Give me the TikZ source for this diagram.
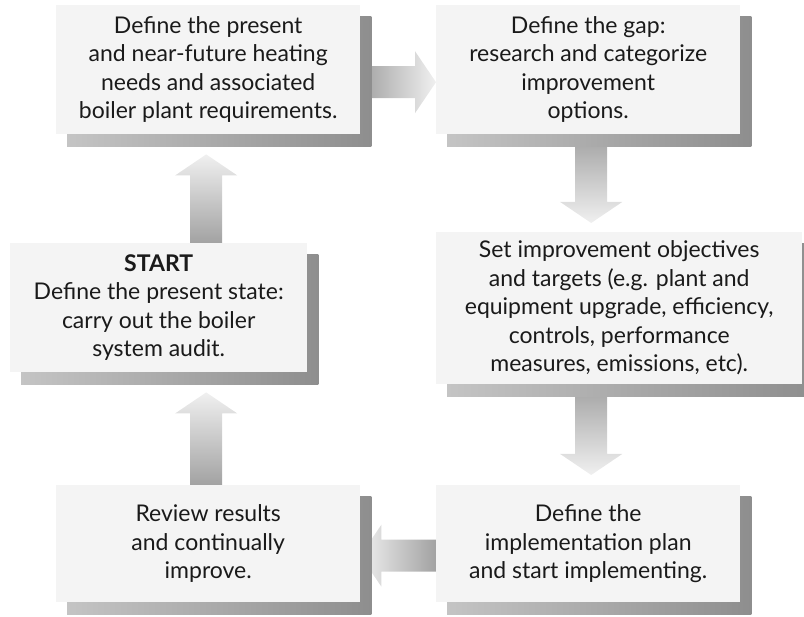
\documentclass[tikz,border=0pt]{standalone}
\usepackage{fontspec}
\setmainfont{Lato}
\usetikzlibrary{calc}
\pgfdeclarelayer{arrowlayer}
\pgfdeclarelayer{shadowlayer}
\pgfsetlayers{arrowlayer,shadowlayer,main}
\definecolor{boxfill}{HTML}{F4F4F4}
\definecolor{textcol}{HTML}{1A1A1A}
\definecolor{shadl}{HTML}{C4C4C4}
\definecolor{shadr}{HTML}{8E8E8E}
\definecolor{ardark}{HTML}{A2A2A2}
\definecolor{arlight}{HTML}{F0F0F0}
% block arrow from tail #1 to tip #2, shading options #3
\newcommand\blockarrow[3]{%
  \shade[#3]
    ($(#1)!16pt!90:(#2)$) --
    ($($(#2)!21pt!(#1)$)!16pt!90:(#2)$) --
    ($($(#2)!21pt!(#1)$)!31pt!90:(#2)$) --
    (#2) --
    ($($(#2)!21pt!(#1)$)!31pt!-90:(#2)$) --
    ($($(#2)!21pt!(#1)$)!16pt!-90:(#2)$) --
    ($(#1)!16pt!-90:(#2)$) -- cycle;}
\begin{document}
\begin{tikzpicture}[x=1pt,y=-1pt,
  box/.style={fill=boxfill, anchor=north west, inner sep=0pt, align=center,
    font=\fontsize{23}{28.5}\selectfont, text=textcol},
  shadowfill/.style={left color=shadl, right color=shadr},
]
\useasboundingbox (0,0) rectangle (804,617);

\node[box, minimum width=304pt, minimum height=129pt] (b1) at (56,5)
  {Define the present\\and near-future heating\\needs and associated\\boiler plant requirements.};
\node[box, minimum width=304pt, minimum height=129pt] (b2) at (436,5)
  {Define the gap:\\research and categorize\\improvement\\options.};
\node[box, minimum width=297pt, minimum height=129pt] (b3) at (10,243)
  {\textbf{START}\\Define the present state:\\carry out the boiler\\system audit.};
\node[box, minimum width=366pt, minimum height=152pt] (b4) at (436,232)
  {Set improvement objectives\\and targets (e.g. plant and\\equipment upgrade, efficiency,\\controls, performance\\measures, emissions, etc).};
\node[box, minimum width=304pt, minimum height=117pt] (b5) at (56,485)
  {Review results\\and continually\\improve.};
\node[box, minimum width=304pt, minimum height=117pt] (b6) at (436,485)
  {Define the\\implementation plan\\and start implementing.};

\begin{pgfonlayer}{shadowlayer}
  \foreach \b in {b1,b2,b3,b4,b5,b6}
    \shade[shadowfill] ($(\b.south west)+(11,12)$) rectangle ($(\b.north east)+(11,12)$);
\end{pgfonlayer}

\coordinate (t1) at ($(b1.east)+(0,12.5)$);
\coordinate (p1) at ($(b2.west)+(0,12.5)$);
\coordinate (t2) at ($(b2.south)+(3,0)$);
\coordinate (p2) at ($(t2 |- b4.north)+(0,-9)$);
\coordinate (t3) at (t2 |- b4.south);
\coordinate (p3) at ($(t2 |- b6.north)+(0,-10)$);
\coordinate (t4) at ($(b6.west)+(0,12)$);
\coordinate (p4) at ($(b5.east)+(0,12)$);
\coordinate (p5) at ($(b1.south)+(-2,20)$);
\coordinate (t5) at (p5 |- b3.north);
\coordinate (p6) at ($(p5 |- b3.south)+(0,20)$);
\coordinate (t6) at (p5 |- b5.north);

\begin{pgfonlayer}{arrowlayer}
  \blockarrow{t1}{p1}{left color=ardark, right color=arlight}
  \blockarrow{t2}{p2}{top color=ardark, bottom color=arlight}
  \blockarrow{t3}{p3}{top color=ardark, bottom color=arlight}
  \blockarrow{t4}{p4}{left color=arlight, right color=ardark}
  \blockarrow{t5}{p5}{top color=arlight, bottom color=ardark}
  \blockarrow{t6}{p6}{top color=arlight, bottom color=ardark}
\end{pgfonlayer}
\end{tikzpicture}
\end{document}
